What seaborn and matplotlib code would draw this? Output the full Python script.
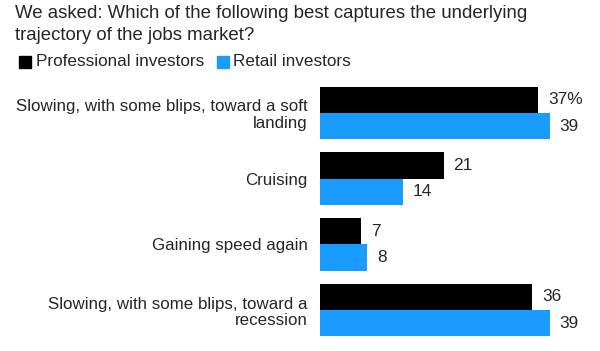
import numpy as np
import pandas as pd
import matplotlib.pyplot as plt
import seaborn as sns

# Dados
respostas = ["Slowing, with some blips, toward a soft\nlanding",
             "Cruising",
             "Gaining speed again",
             "Slowing, with some blips, toward a\nrecession"]
profissionais = [37, 21, 7, 36]
varejo = [39, 14, 8, 39]
grupos = ["Professional investors", "Retail investors"]
cores = ["#000000", "#1a9cff"]

df = pd.DataFrame({
    "resposta": respostas * 2,
    "valor": profissionais + varejo,
    "grupo": [grupos[0]] * 4 + [grupos[1]] * 4,
})

sns.set_style("white")
plt.rcParams["font.family"] = ["Liberation Sans", "DejaVu Sans"]

fig = plt.figure(figsize=(6, 3.51), dpi=100)
ax = fig.add_axes([320 / 600, 8 / 351, 270 / 600, 263 / 351])

sns.barplot(data=df, x="valor", y="resposta", hue="grupo", palette=cores,
            orient="h", width=0.8, saturation=1, ax=ax, legend=False,
            linewidth=0)

ax.set_xlim(0, 270 / 5.897)
ax.set_ylim(3.5, -0.5)
ax.set_xlabel("")
ax.set_ylabel("")
ax.set_xticks([])
ax.tick_params(axis="y", length=0, pad=9, labelsize=12.2)
for t in ax.get_yticklabels():
    t.set_linespacing(1.15)
for s in ax.spines.values():
    s.set_visible(False)

# Rótulos dos valores
for i, cont in enumerate(ax.containers):
    rot = [f"{int(v)}%" if (i == 0 and j == 0) else f"{int(v)}" for j, v in enumerate(cont.datavalues)]
    ax.bar_label(cont, labels=rot, padding=7, fontsize=12.4)

# Título
fig.text(15 / 600, 1 - 18.5 / 351, "We asked: Which of the following best captures the underlying",
         ha="left", va="baseline", fontsize=13.4)
fig.text(15 / 600, 1 - 39.5 / 351, "trajectory of the jobs market?",
         ha="left", va="baseline", fontsize=13.4)

# Legenda
ly = 1 - 62 / 351
fig.patches.append(plt.Rectangle((19 / 600, ly - 5.5 / 351), 12 / 600, 11 / 351,
                                 transform=fig.transFigure, color=cores[0]))
fig.text(36 / 600, ly, grupos[0], ha="left", va="center", fontsize=12.3)
fig.patches.append(plt.Rectangle((217 / 600, ly - 5.5 / 351), 12 / 600, 11 / 351,
                                 transform=fig.transFigure, color=cores[1]))
fig.text(233 / 600, ly, grupos[1], ha="left", va="center", fontsize=12.3)

fig.savefig("out.png", dpi=100)
